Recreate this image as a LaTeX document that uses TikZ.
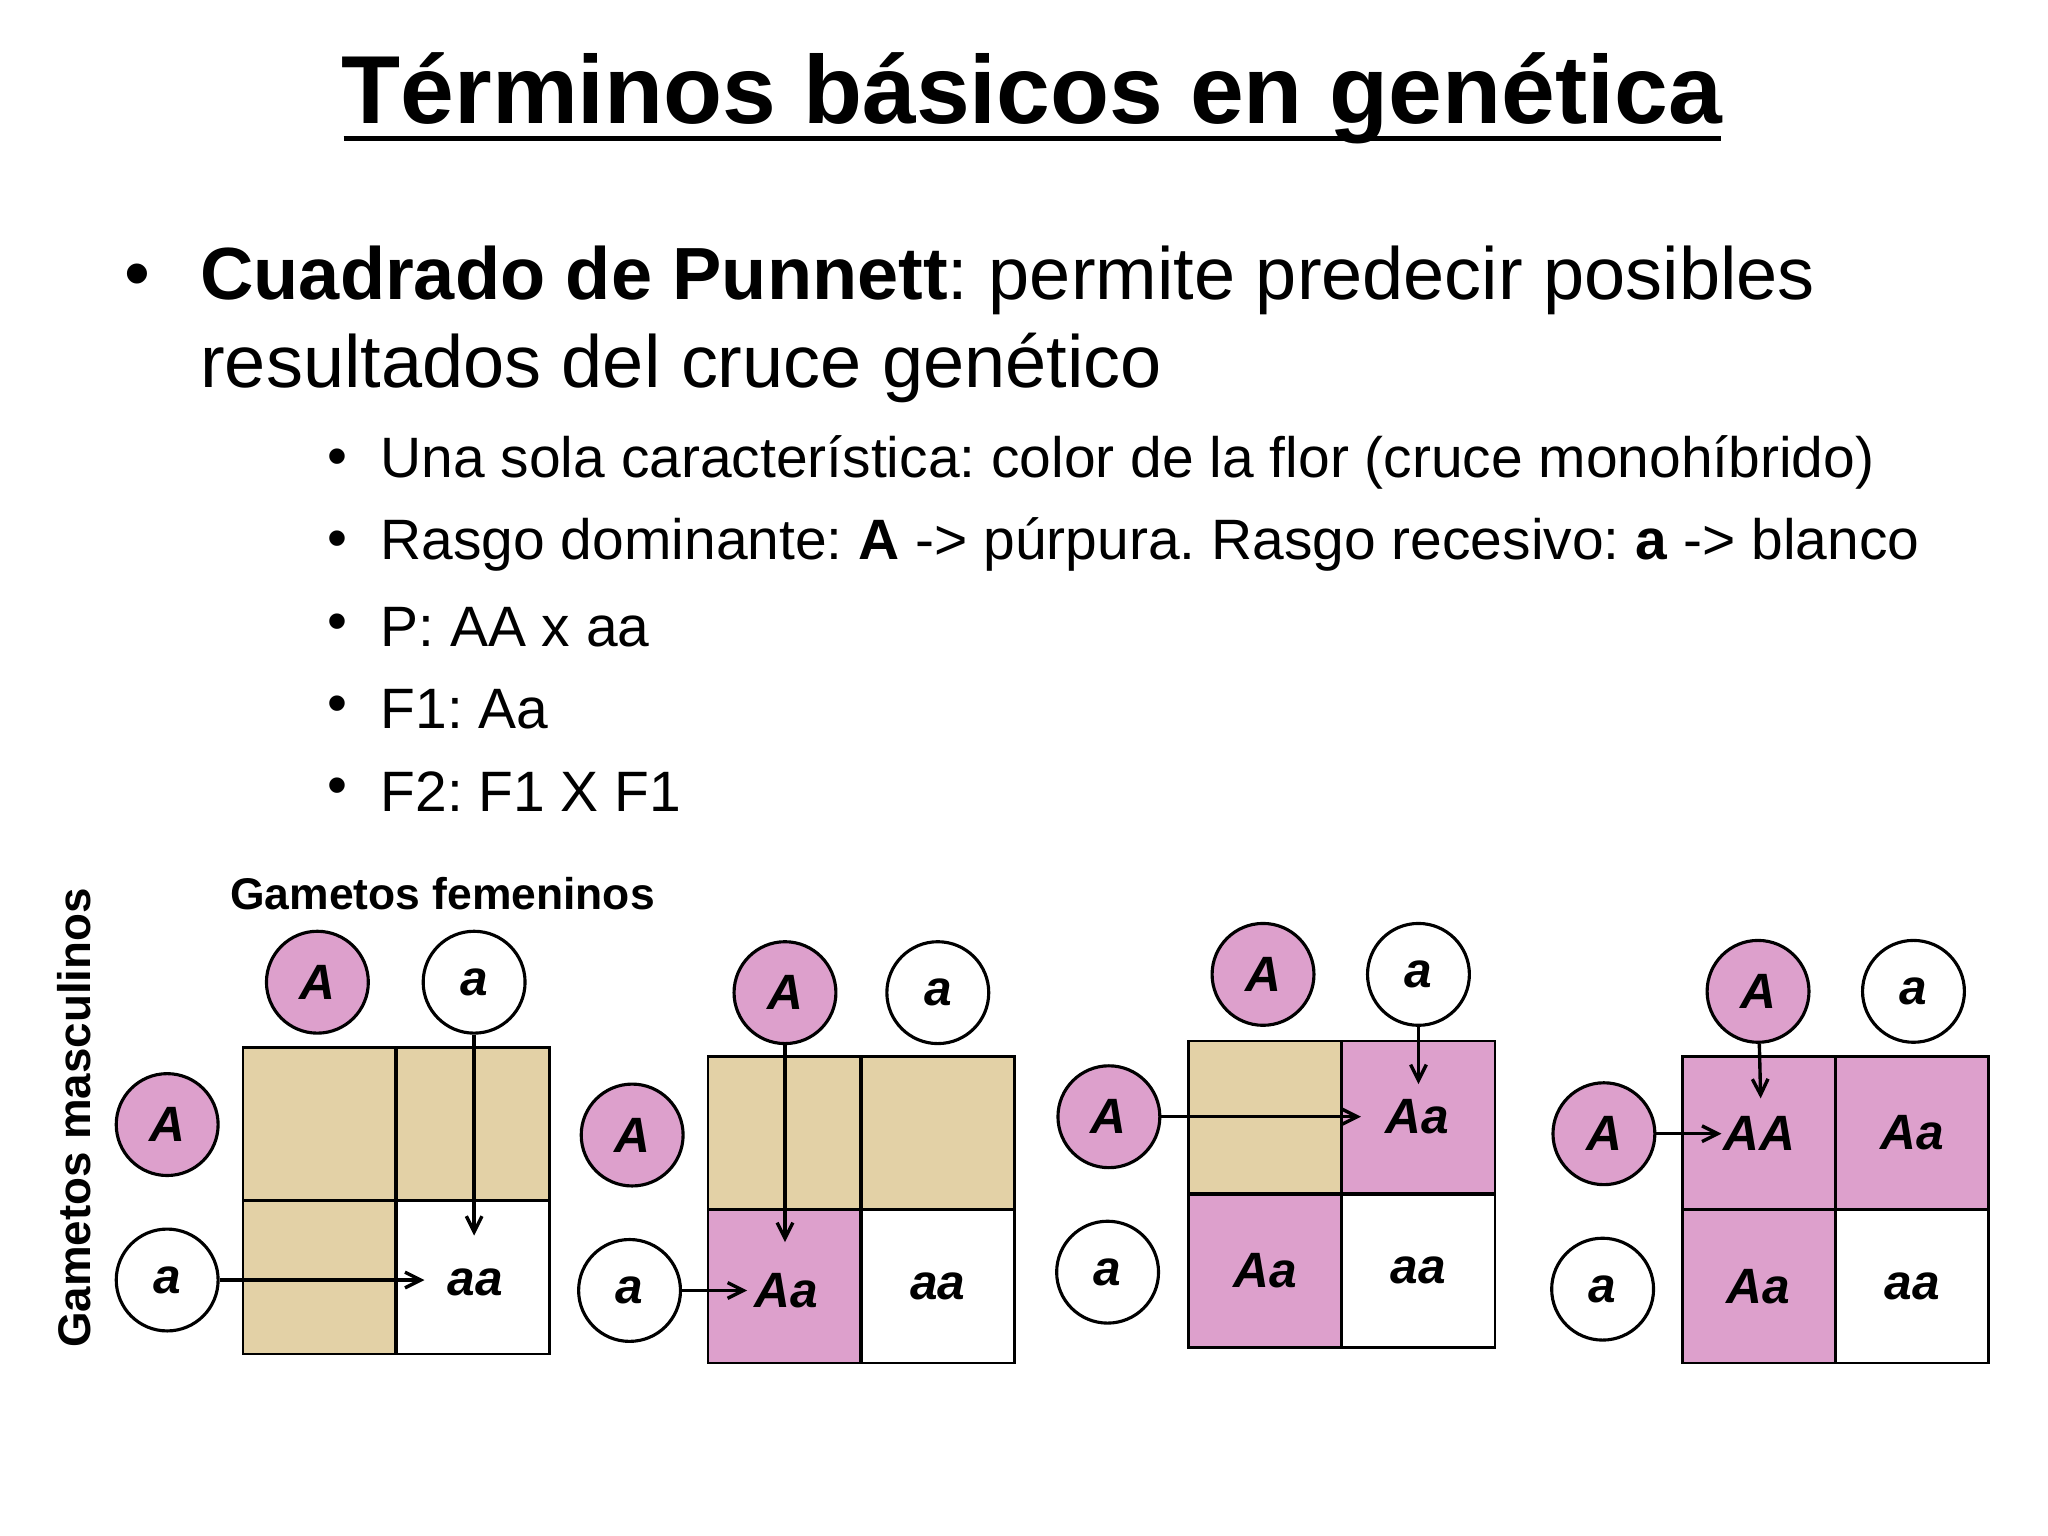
\documentclass[tikz,border=0pt]{standalone}
\usepackage{fontspec}
\setmainfont{Liberation Sans}
\usetikzlibrary{arrows.meta}
\frenchspacing
\begin{document}
\begin{tikzpicture}[x=0.5pt,y=-0.5pt,
  gam/.style={circle,draw,line width=1.2pt,minimum size=39pt,inner sep=0pt,font=\fontsize{19}{22}\selectfont\bfseries\itshape},
  gp/.style={gam,fill=pinkc},
  gw/.style={gam,fill=white},
  cell/.style={draw,line width=1pt,minimum size=58.5pt,inner sep=0pt,anchor=north west,font=\fontsize{19}{22}\selectfont\bfseries\itshape},
  tan/.style={cell,fill=tanc},
  pk/.style={cell,fill=pinkc},
  wh/.style={cell,fill=white},
  arr/.style={line width=1.3pt,-{Straight Barb[length=6pt,width=6pt]}},
  line/.style={anchor=west,inner sep=0pt},
  sub/.style={line,font=\fontsize{21.8}{24}\selectfont},
  main/.style={line,font=\fontsize{28.3}{32}\selectfont},
  ct/.style={font=\fontsize{19}{22}\selectfont\bfseries\itshape},
]
\definecolor{tanc}{HTML}{E3D1A6}
\definecolor{pinkc}{HTML}{DDA0CC}
\useasboundingbox (0,0) rectangle (1568,1176);
\fill[white] (0,0) rectangle (1568,1176);
% title
\node[inner sep=0pt,font=\fontsize{37}{42}\selectfont\bfseries] (title) at (790,75) {Términos básicos en genética};
\draw[line width=1.6pt] (263,106) -- (1318,106);
% main bullet
\node[main] (b1) at (95,215) {•};
\node[main] (t1) at (153,215) {\textbf{Cuadrado de Punnett}: permite predecir posibles};
\node[main] (t2) at (153,282) {resultados del cruce genético};
\foreach \y/\t [count=\i] in {354/{Una sola característica: color de la flor (cruce monohíbrido)},
  417/{Rasgo dominante: \textbf{A} -> púrpura. Rasgo recesivo: \textbf{a} -> blanco},
  480/{P: AA x aa},543/{F1: Aa},606/{F2: F1 X F1}}{
  \node[sub] (sb\i) at (250,\y) {•};
  \node[sub] (st\i) at (291,\y) {\t};
}
% labels
\node[anchor=west,inner sep=0pt,font=\fontsize{17}{19}\selectfont\bfseries] (gf) at (176,684) {Gametos femeninos};
\node[rotate=90,inner sep=0pt,font=\fontsize{17.5}{20}\selectfont\bfseries] (gm) at (57,856) {Gametos masculinos};
% grid 1
\node[tan] (g1a) at (185,801) {}; \node[tan] (g1b) at (302.5,801) {};
\node[tan] (g1c) at (185,918.5) {}; \node[wh] (g1d) at (302.5,918.5) {};
\node[gp] (g1tA) at (243,752) {A}; \node[gw] (g1ta) at (363,752) {a};
\node[gp] (g1lA) at (128,861) {A}; \node[gw] (g1la) at (128,980) {a};
\node[ct] (g1t) at (364,982) {aa};
\coordinate (g1e1) at (363,946); \coordinate (g1e2) at (325,980);
\draw[arr] (g1ta) -- (g1e1); \draw[arr] (g1la) -- (g1e2);
% grid 2
\node[tan] (g2a) at (541,808) {}; \node[tan] (g2b) at (658.5,808) {};
\node[pk] (g2c) at (541,925.5) {}; \node[wh] (g2d) at (658.5,925.5) {aa};
\node[gp] (g2tA) at (601,760) {A}; \node[gw] (g2ta) at (718,760) {a};
\node[gp] (g2lA) at (484,869) {A}; \node[gw] (g2la) at (482,988) {a};
\node[ct] (g2t) at (602,988) {Aa};
\coordinate (g2e1) at (601,951); \coordinate (g2e2) at (572,988);
\draw[arr] (g2tA) -- (g2e1); \draw[arr] (g2la) -- (g2e2);
% grid 3
\node[tan] (g3a) at (909,796) {}; \node[pk] (g3b) at (1026.5,796) {};
\node[pk] (g3c) at (909,913.5) {Aa}; \node[wh] (g3d) at (1026.5,913.5) {aa};
\node[gp] (g3tA) at (967,746) {A}; \node[gw] (g3ta) at (1086,746) {a};
\node[gp] (g3lA) at (849,855) {A}; \node[gw] (g3la) at (848,974) {a};
\node[ct] (g3t) at (1085,855) {Aa};
\coordinate (g3e1) at (1086,830); \coordinate (g3e2) at (1042,855);
\draw[arr] (g3ta) -- (g3e1); \draw[arr] (g3lA) -- (g3e2);
% grid 4
\node[pk] (g4a) at (1287,808) {}; \node[pk] (g4b) at (1404.5,808) {Aa};
\node[pk] (g4c) at (1287,925.5) {Aa}; \node[wh] (g4d) at (1404.5,925.5) {aa};
\node[gp] (g4tA) at (1346,759) {A}; \node[gw] (g4ta) at (1465,759) {a};
\node[gp] (g4lA) at (1228,868) {A}; \node[gw] (g4la) at (1227,987) {a};
\node[ct] (g4t) at (1347,868) {AA};
\coordinate (g4e1) at (1348,841); \coordinate (g4e2) at (1318,868);
\draw[arr] (g4tA) -- (g4e1); \draw[arr] (g4lA) -- (g4e2);
\end{tikzpicture}
\end{document}
